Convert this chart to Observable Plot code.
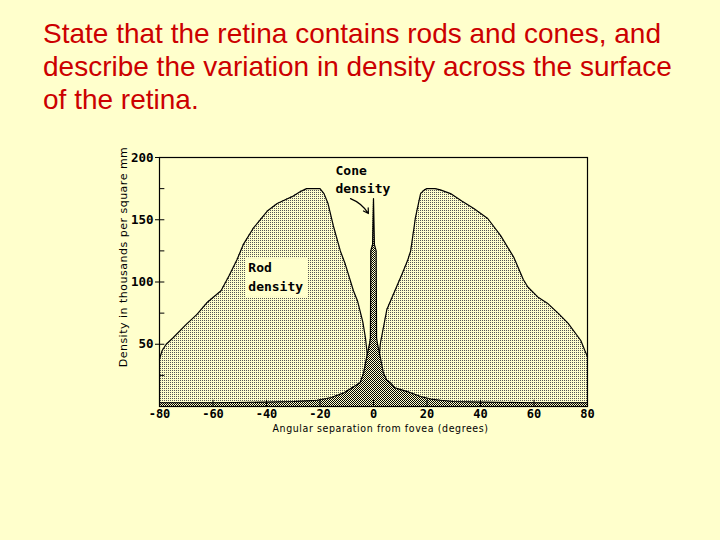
<!DOCTYPE html>
<html><head><meta charset="utf-8">
<script src="https://cdn.jsdelivr.net/npm/d3@7"></script>
<script src="https://cdn.jsdelivr.net/npm/@observablehq/plot@0.6"></script>
<style>
html,body{margin:0;padding:0;background:#FFFFCC;width:720px;height:540px;overflow:hidden}
#title{position:absolute;left:43px;top:17px;width:677px;font-family:"Liberation Sans",Arial,sans-serif;font-size:28px;line-height:33px;color:#CC0000;white-space:nowrap}
#chart{position:absolute;left:0;top:130px}
.xlab text{letter-spacing:0.6px}
.ylab text{letter-spacing:0.5px}
</style></head><body>
<div id="title">State that the retina contains rods and cones, and<br>describe the variation in density across the surface<br>of the retina.</div>
<div id="chart"></div>
<script>
// Rod density (thousands per mm²) by angular separation from fovea (degrees)
const rodDeg = [-80,-79,-77.5,-75,-70,-66,-62,-57,-54,-51,-48.7,-45,-42,-39.7,-36,-33,-30,-27,-25,-20,-18.5,-17,-15,-12.4,-10.5,-7.5,-6,-4,-3,-2,-1.6,-1.5,1.5,1.6,2.6,5,7,9,10.8,12.7,13.9,15.7,17.6,19,20,23,25,28.8,33,37.5,42.7,47.6,52.4,56,57.7,61.4,65,69,72.7,77.5,79,80];
const rodVal = [38,45,50,55,66,74,84,93,105,118,130,143,151,157,163,166,169,173,175,175,171,163,145,125,114,93,85,68,55,35,28,0,0,30,51,78,88,98,107,117,125,152,171,174,175,175,174,171,165,159,151,137,120,102,96,88,83,75,67,53,45,40];
// Cone density
const coneDeg = [-80,-60,-40,-30,-25,-21,-16,-11,-8,-5,-3.7,-2.5,-1.5,-1.15,-1.0,-0.35,0,0.35,1.0,1.15,1.5,2.5,3.7,5,6.4,8,12.7,17.6,21.4,25,30,40,60,80];
const coneVal = [3,3,3.5,4,4.5,5,7,11,15,19,27,40,50,55,125,130,167,130,125,55,50,40,27,21,19,15,12,8,6,5,4,3.5,3,3];
// Axis ticks
const xTicks = [-80,-60,-40,-20,0,20,40,60,80];
const xInnerTicks = [-60,-40,-20,0,20,40,60];
const yLabelTicks = [50,100,150,200];
const yTicks = [0,25,50,75,100,125,150,175,200];
// Annotations
const labelText = ["Cone","density","Rod","density"];
const labelX = [-14.2,-14.2,-46.8,-46.8];
const labelY = [189,175,111,96];
const rodBox = [{x1:-47.6,x2:-24.3,y1:87.6,y2:118.8}];
const arrowFrom = [-8.6,167];
const arrowTo = [-1.9,155];
const xTitle = "Angular separation from fovea (degrees)";
const yTitle = "Density in thousands per square mm";

const rods = rodDeg.map((d,i)=>({deg:d,val:rodVal[i]}));
const cones = coneDeg.map((d,i)=>({deg:d,val:coneVal[i]}));
const labels = labelText.map((t,i)=>({t,x:labelX[i],y:labelY[i]}));
const arrows = [{x1:arrowFrom[0],y1:arrowFrom[1],x2:arrowTo[0],y2:arrowTo[1]}];

const bold = {fontFamily:"DejaVu Sans Mono", fontSize:13, fontWeight:"bold"};

const svg = Plot.plot({
  width:720, height:330,
  marginLeft:159, marginRight:133, marginTop:27, marginBottom:54,
  x:{domain:[-80,80]},
  y:{domain:[0,200]},
  style:{background:"transparent", color:"black", fontFamily:"DejaVu Sans Mono", fontSize:"13px", overflow:"visible"},
  marks:[
    Plot.areaY(rods,{x:"deg", y:"val", fill:"url(#dots)", curve:"linear"}),
    Plot.lineY(rods,{x:"deg", y:"val", stroke:"black", strokeWidth:1.2, curve:"linear"}),
    Plot.areaY(cones,{x:"deg", y:"val", fill:"url(#checker)", curve:"linear"}),
    Plot.lineY(cones,{x:"deg", y:"val", stroke:"black", strokeWidth:1.2, curve:"linear"}),
    Plot.rect(rodBox,{x1:"x1",x2:"x2",y1:"y1",y2:"y2",fill:"#FFFFCC"}),
    Plot.text(labels,{x:"x",y:"y",text:"t",textAnchor:"start",...bold}),
    Plot.arrow(arrows,{x1:"x1",y1:"y1",x2:"x2",y2:"y2",bend:18,headLength:7,strokeWidth:1.2,stroke:"black"}),
    Plot.frame({stroke:"black", strokeWidth:1.2}),
    Plot.ruleY(yTicks,{y:d=>d, x1:-80, x2:-78, stroke:"black"}),
    Plot.ruleX(xInnerTicks,{x:d=>d, y1:0, y2:5, stroke:"black"}),
    Plot.axisX({ticks:xTicks, tickSize:0, tickPadding:2.5, tickFormat:d=>String(d), fontSize:12, fontWeight:"bold", fontFamily:"DejaVu Sans Mono", label:null}),
    Plot.axisY({ticks:yLabelTicks, tickSize:4, tickPadding:2, tickFormat:d=>String(d), fontSize:12.5, fontWeight:"bold", fontFamily:"DejaVu Sans Mono", label:null}),
    Plot.text([xTitle],{frameAnchor:"bottom", dy:22, dx:7, fontFamily:"DejaVu Sans Condensed", fontSize:10.5, lineAnchor:"middle", className:"xlab"}),
    Plot.text([yTitle],{frameAnchor:"left", rotate:-90, dx:-36, dy:-25, textAnchor:"middle", fontFamily:"DejaVu Sans", fontSize:11, lineAnchor:"middle", className:"ylab"})
  ]
});
d3.select(svg).insert("defs",":first-child").html(
  '<pattern id="dots" patternUnits="userSpaceOnUse" width="2" height="2">'+
  '<rect width="2" height="2" fill="#FFFFCC"/><rect width="1" height="1" fill="#555"/></pattern>'+
  '<pattern id="checker" patternUnits="userSpaceOnUse" width="2" height="2">'+
  '<rect width="2" height="2" fill="#FFFFCC"/><rect width="1" height="1" fill="#000"/><rect x="1" y="1" width="1" height="1" fill="#000"/></pattern>'
);
document.getElementById("chart").appendChild(svg);
</script></body></html>
